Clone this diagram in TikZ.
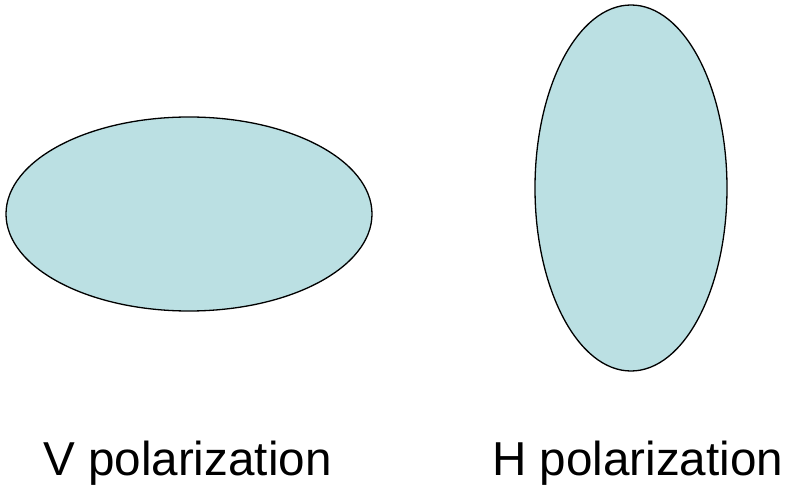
\documentclass[tikz,border=0pt]{standalone}
\usepackage{fontspec}
\setmainfont{Liberation Sans}
\usepackage{tikz}
\usetikzlibrary{shapes.geometric, positioning}
\definecolor{cBeam}{RGB}{187,224,227}
\tikzset{
	beam/.style  ={ellipse, draw=black, line width=1.3pt, fill=cBeam, inner sep=0pt},
	label/.style ={anchor=base west, inner sep=0pt, font=\fontsize{47.6}{56}\selectfont},
}
\begin{document}
\begin{tikzpicture}[x=1pt, y=-1pt]
	\useasboundingbox (0,0) rectangle (788,486);
	% spot shapes
	\node[beam, minimum width=366pt, minimum height=194pt] (vspot) at (189,214) {};
	\node[beam, minimum width=192pt, minimum height=366pt] (hspot) at (631,188) {};
	% captions
	\node[label] (vtext) at (43,476) {V polarization};
	\node[label] (htext) at (492,476) {H polarization};
\end{tikzpicture}
\end{document}
